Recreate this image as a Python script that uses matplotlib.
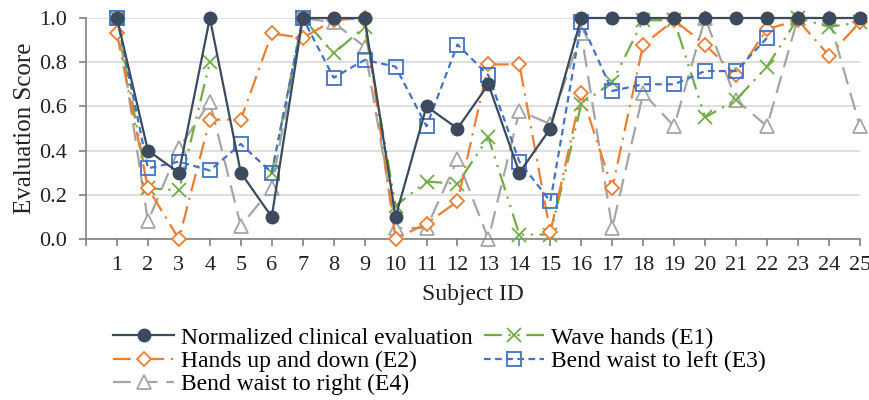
import numpy as np
import matplotlib.pyplot as plt
from matplotlib.ticker import FormatStrFormatter

plt.rcParams['font.family'] = ['Liberation Serif', 'DejaVu Serif']

subjects = list(range(1, 26))
nan = np.nan

clinical = [1.0, 0.4, 0.3, 1.0, 0.3, 0.1, 1.0, 1.0, 1.0, 0.1, 0.6, 0.5, 0.7,
            0.3, 0.5, 1.0, 1.0, 1.0, 1.0, 1.0, 1.0, 1.0, 1.0, 1.0, 1.0]
wave_e1 = [1.0, 0.23, 0.22, 0.80, nan, 0.30, 1.0, 0.84, 0.96, 0.15, 0.26, 0.25, 0.46,
           0.02, 0.02, 0.61, 0.71, 0.99, 0.99, 0.55, 0.63, 0.78, 1.0, 0.96, 0.98]
updown_e2 = [0.93, 0.23, 0.0, 0.54, 0.54, 0.93, 0.91, 0.99, 1.0, 0.0, 0.07, 0.17, 0.79,
             0.79, 0.03, 0.66, 0.23, 0.88, 0.99, 0.88, 0.74, 0.95, 0.99, 0.83, 0.98]
left_e3 = [1.0, 0.32, 0.35, 0.31, 0.43, 0.30, 1.0, 0.73, 0.81, 0.78, 0.51, 0.88, 0.74,
           0.35, 0.17, 0.98, 0.67, 0.70, 0.70, 0.76, 0.76, 0.91, nan, nan, nan]
right_e4 = [1.0, 0.08, 0.41, 0.62, 0.06, 0.23, 1.0, 0.98, 0.87, 0.05, 0.05, 0.36, 0.0,
            0.58, 0.52, 0.93, 0.05, 0.66, 0.51, 1.0, 0.63, 0.51, 1.0, 1.0, 0.51]

fig = plt.figure(figsize=(8.69, 4.0), dpi=100)
ax = fig.add_axes([0.099, 0.4025, 0.8905, 0.5525])

lw = 1.6
ax.plot(subjects, clinical, color='#3B4A5E', marker='o', markersize=9,
        linewidth=lw, label='Normalized clinical evaluation', clip_on=False, zorder=6)
ax.plot(subjects, updown_e2, color='#ED7D31', marker='D', markersize=7,
        markerfacecolor='white', markeredgewidth=1.3, linewidth=lw,
        dashes=(8, 3, 1, 3), label='Hands up and down (E2)', clip_on=False, zorder=4)
ax.plot(subjects, right_e4, color='#A5A5A5', marker='^', markersize=10,
        markerfacecolor='white', markeredgewidth=1.3, linewidth=lw,
        dashes=(8, 4), label='Bend waist to right (E4)', clip_on=False, zorder=2)
ax.plot(subjects, wave_e1, color='#70AD47', marker='x', markersize=10,
        markeredgewidth=1.3, linewidth=lw, dashes=(8, 3, 1, 3, 1, 3),
        label='Wave hands (E1)', clip_on=False, zorder=3)
ax.plot(subjects, left_e3, color='#4472C4', marker='s', markersize=10,
        markerfacecolor='none', markeredgewidth=1.3, linewidth=lw,
        dashes=(3, 2), label='Bend waist to left (E3)', clip_on=False, zorder=5)

ax.set_xlim(0, 25)
ax.set_ylim(0, 1.0)
ax.set_xticks([0] + subjects)
ax.set_xticklabels([''] + [str(s) for s in subjects])
ax.set_yticks(np.arange(0, 1.01, 0.2))
ax.yaxis.set_major_formatter(FormatStrFormatter('%.1f'))
ax.tick_params(labelsize=16, colors='#222222', length=5, color='#808080', width=1.2)
ax.tick_params(axis='y', pad=9)
ax.tick_params(axis='x', pad=7)
ax.grid(axis='y', color='#D9D9D9', linewidth=1.2)
ax.set_axisbelow(True)
for s in ['top', 'right']:
    ax.spines[s].set_visible(False)
for s in ['left', 'bottom']:
    ax.spines[s].set_color('#808080')
    ax.spines[s].set_linewidth(1.2)

ax.set_xlabel('Subject ID', fontsize=17, color='#222222', labelpad=7)
ax.set_ylabel('Evaluation Score', fontsize=18, color='#222222', labelpad=2)

handles, labels = ax.get_legend_handles_labels()
leg = fig.legend(handles, labels,
                 loc='upper left', bbox_to_anchor=(0.117, 0.212), ncol=2,
                 frameon=False, fontsize=17, handlelength=2.55, handletextpad=0.3,
                 columnspacing=0.5, labelspacing=0.08, borderpad=0)

fig.savefig('out.png', dpi=100)
